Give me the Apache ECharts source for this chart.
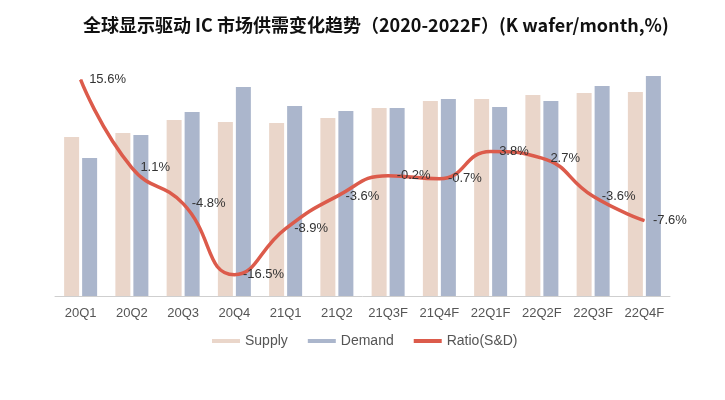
<!DOCTYPE html>
<html>
<head>
<meta charset="utf-8">
<script src="https://cdn.jsdelivr.net/npm/echarts@6/dist/echarts.min.js"></script>
<style>html,body{margin:0;padding:0;background:#fff;}#c{width:725px;height:400px;}</style>
</head>
<body>
<div id="c"></div>
<script>
var categories = ['20Q1','20Q2','20Q3','20Q4','21Q1','21Q2','21Q3F','21Q4F','22Q1F','22Q2F','22Q3F','22Q4F'];
var supply = [159, 163, 176, 174, 173, 178, 188, 195, 197, 201, 203, 204];
var demand = [138, 161, 184, 209, 190, 185, 188, 197, 189, 195, 210, 220];
var ratio = [15.6, 1.1, -4.8, -16.5, -8.9, -3.6, -0.2, -0.7, 3.8, 2.7, -3.6, -7.6];

var chart = echarts.init(document.getElementById('c'));
chart.setOption({
  animation: false,
  title: {
    text: '全球显示驱动 IC 市场供需变化趋势（2020-2022F）(K wafer/month,%)',
    left: 78, top: 11,
    textStyle: { fontFamily: 'Noto Sans CJK SC', fontWeight: 'bold', fontSize: 18, color: '#111' }
  },
  legend: {
    bottom: 47, left: 207,
    itemWidth: 28, itemHeight: 4, itemGap: 20,
    textStyle: { fontFamily: 'Liberation Sans', fontSize: 14, color: '#555' },
    data: [
      { name: 'Supply', icon: 'rect' },
      { name: 'Demand', icon: 'rect' },
      { name: 'Ratio(S&D)', icon: 'rect' }
    ]
  },
  grid: { left: 55, right: 55, top: 56, height: 240 },
  xAxis: {
    type: 'category', data: categories,
    axisLine: { lineStyle: { color: '#cfcfcf' } },
    axisTick: { show: false },
    axisLabel: { interval: 0, fontFamily: 'Liberation Sans', fontSize: 13, color: '#555', margin: 11 }
  },
  yAxis: [
    { type: 'value', min: 0, max: 240, show: false, splitLine: { show: false } },
    { type: 'value', min: -20, max: 19.5, show: false, splitLine: { show: false } }
  ],
  series: [
    { name: 'Supply', type: 'bar', data: supply, barWidth: 15, barGap: '20%',
      itemStyle: { color: '#ead6ca' } },
    { name: 'Demand', type: 'bar', data: demand, barWidth: 15,
      itemStyle: { color: '#abb6cc' } },
    { name: 'Ratio(S&D)', type: 'line', yAxisIndex: 1, data: ratio, smooth: 0.5,
      symbol: 'circle', symbolSize: 1, showSymbol: true,
      lineStyle: { color: '#dc5b4b', width: 3.5 }, itemStyle: { color: '#dc5b4b' },
      label: { show: true, position: 'right', distance: 8,
        formatter: function (p) { return p.value + '%'; },
        fontFamily: 'Liberation Sans', fontSize: 13, color: '#333' } }
  ]
});
</script>
</body>
</html>
